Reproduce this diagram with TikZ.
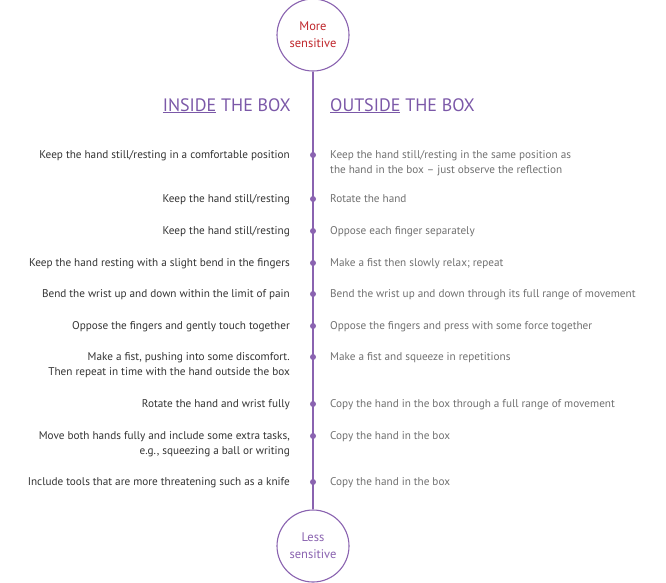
\documentclass[tikz,border=0pt]{standalone}
\usepackage{fontspec}
\setmainfont{PT Sans}
\definecolor{pur}{HTML}{8A63B0}
\definecolor{hd}{HTML}{7B58A8}
\definecolor{lt}{HTML}{333333}
\definecolor{rt}{HTML}{707070}
\definecolor{rd}{HTML}{C0282D}
\begin{document}
\begin{tikzpicture}[x=1pt,y=-1pt,
  lft/.style={anchor=north east,align=right,text=lt,font=\fontsize{11.2}{14.5}\selectfont,inner sep=0},
  rgt/.style={anchor=north west,align=left,text=rt,font=\fontsize{11.2}{14.5}\selectfont,inner sep=0},
  endc/.style={circle,draw=pur,line width=1.1pt,minimum size=72pt,text=rd,align=center,font=\fontsize{12.5}{17}\selectfont,fill=white},
  hdr/.style={text=hd,font=\fontsize{18}{20}\selectfont,inner sep=0},
  dotn/.style={circle,fill=pur,inner sep=0,minimum size=6pt}]
\useasboundingbox (0,0) rectangle (666,582);
\node[endc] (top) at (313,35) {More\\sensitive};
\node[endc,text=pur] (bot) at (313,546) {Less\\sensitive};
\draw[pur,line width=1.1pt] (top) -- (bot);
\node[hdr,anchor=base east] (hl) at (291,111) {\underline{INSIDE} THE BOX};
\node[hdr,anchor=base west] (hr) at (330,111) {\underline{OUTSIDE} THE BOX};
\foreach \y/\l/\r [count=\i] in {
 155/{Keep the hand still/resting in a comfortable position}/{Keep the hand still/resting in the same position as\\the hand in the box – just observe the reflection},
 199/{Keep the hand still/resting}/{Rotate the hand},
 231/{Keep the hand still/resting}/{Oppose each finger separately},
 263/{Keep the hand resting with a slight bend in the fingers}/{Make a fist then slowly relax; repeat},
 294/{Bend the wrist up and down within the limit of pain}/{Bend the wrist up and down through its full range of movement},
 326/{Oppose the fingers and gently touch together}/{Oppose the fingers and press with some force together},
 357/{Make a fist, pushing into some discomfort.\\Then repeat in time with the hand outside the box}/{Make a fist and squeeze in repetitions},
 404/{Rotate the hand and wrist fully}/{Copy the hand in the box through a full range of movement},
 436/{Move both hands fully and include some extra tasks,\\e.g., squeezing a ball or writing}/{Copy the hand in the box},
 482/{Include tools that are more threatening such as a knife}/{Copy the hand in the box}}{
 \node[dotn] (d\i) at (313,\y) {};
 \node[lft] (l\i) at (290,\y-4.5) {\l};
 \node[rgt] (r\i) at (330,\y-4.5) {\r};
}
\end{tikzpicture}
\end{document}
